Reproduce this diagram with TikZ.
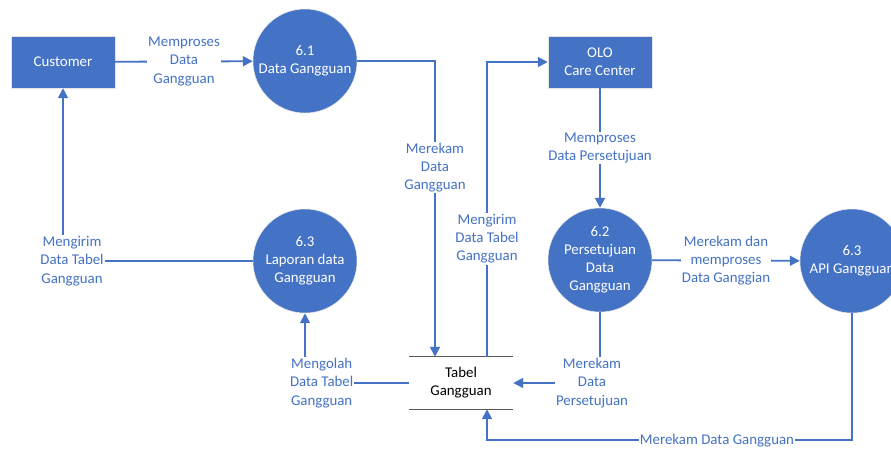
\documentclass[tikz,border=0pt]{standalone}
\usepackage{fontspec}
\setmainfont{Carlito}
\usepackage{tikz}
\usetikzlibrary{arrows.meta, positioning}
\definecolor{dfdblue}{RGB}{68,114,196}
\definecolor{storegray}{RGB}{89,89,89}

\begin{document}
\begin{tikzpicture}[
    x=0.03cm, y=-0.03cm,
    entity/.style={rectangle, draw=white!80!gray, fill=dfdblue, text=white, minimum width=3.12cm, minimum height=1.56cm, align=center, font=\fontsize{12.7}{15.5}\selectfont},
    process/.style={circle, draw=white!80!gray, fill=dfdblue, text=white, minimum size=3.12cm, inner sep=0pt, align=center, font=\fontsize{12.7}{15.5}\selectfont},
    datastore/.style={rectangle, minimum width=3.12cm, minimum height=1.56cm, align=center, font=\fontsize{12.7}{15.5}\selectfont},
    flow/.style={draw=dfdblue, line width=1.6pt, -{Triangle[length=0.3cm, width=0.3cm]}},
    link/.style={draw=dfdblue, line width=1.6pt},
    lbl/.style={fill=white, text=dfdblue, align=center, inner sep=1pt, font=\fontsize{12.7}{15.5}\selectfont},
]
    \useasboundingbox (0,0) rectangle (891,449);

    \node[entity] (customer) at (63,62) {Customer};
    \node[process] (p61) at (305,61) {6.1\\Data Gangguan};
    \node[entity] (olo) at (600,62) {OLO\\Care Center};
    \node[process] (p62) at (600,260) {6.2\\Persetujuan\\Data\\Gangguan};
    \node[process] (p63lap) at (305,261) {6.3\\Laporan data\\Gangguan};
    \node[process] (p63api) at (852,261) {6.3\\API Gangguan};
    \node[datastore] (tabel) at (461,383) {Tabel\\Gangguan};

    % data store lines
    \draw[storegray, line width=1.2pt] (tabel.north west) -- (tabel.north east);
    \draw[storegray, line width=1.2pt] (tabel.south west) -- (tabel.south east);

    \draw[flow] (customer) -- node[lbl] {Memproses\\Data\\Gangguan} (p61);
    \draw[flow] (p61.east) -| node[lbl, pos=0.68] {Merekam\\Data\\Gangguan} ([xshift=-0.78cm]tabel.north);
    \draw[flow] ([xshift=0.78cm]tabel.north) |- node[lbl, pos=0.2] {Mengirim\\Data Tabel\\Gangguan} (olo.west);
    \draw[flow] (olo) -- node[lbl] {Memproses\\Data Persetujuan} (p62);
    \draw[flow] (p62) -- node[lbl] {Merekam dan\\memproses\\Data Ganggian} (p63api);
    \draw[flow] (p62.south) |- node[lbl, pos=0.5, xshift=-0.24cm] {Merekam\\Data\\Persetujuan} (tabel.east);
    \draw[flow] (p63api.south) -- ++(0,127) -| node[lbl, pos=0.185] {Merekam Data Gangguan} ([xshift=0.78cm]tabel.south);
    \draw[flow] (tabel.west) -| node[lbl, pos=0.5, xshift=0.5cm] {Mengolah\\Data Tabel\\Gangguan} (p63lap.south);
    \draw[flow] (p63lap.west) -| node[lbl, pos=0.5, xshift=0.27cm] {Mengirim\\Data Tabel\\Gangguan} (customer.south);
\end{tikzpicture}
\end{document}
